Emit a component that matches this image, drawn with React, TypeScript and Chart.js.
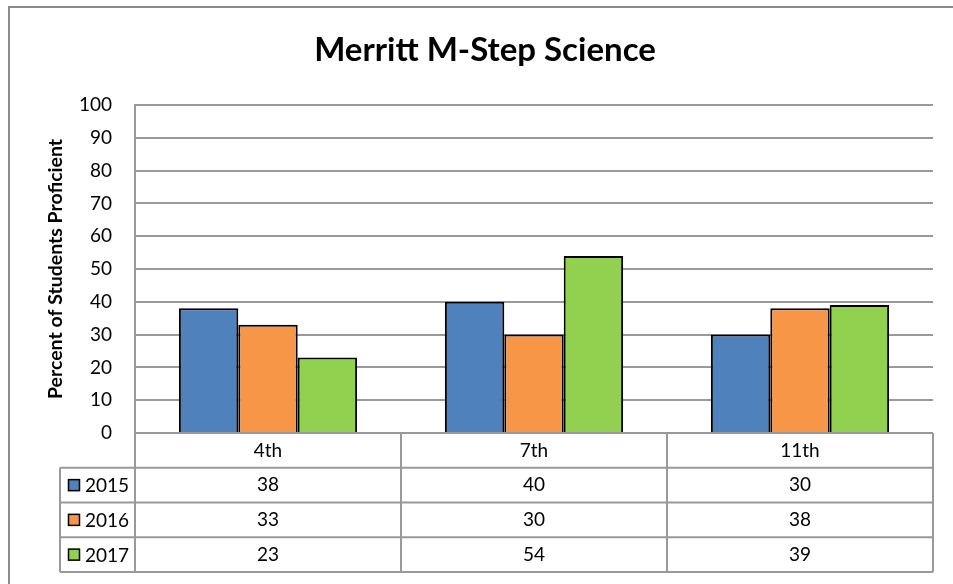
import React, { useEffect, useRef } from 'react';
import { Chart, registerables } from 'chart.js';

Chart.register(...registerables);

const chartTitle = 'Merritt M-Step Science';
const yAxisTitle = 'Percent of Students Proficient';
const categories = ['4th', '7th', '11th'];
const seriesNames = ['2015', '2016', '2017'];
const values2015 = [38, 40, 30];
const values2016 = [33, 30, 38];
const values2017 = [23, 54, 39];
const seriesColors = ['#4F81BD', '#F79646', '#92D050'];
const yMin = 0;
const yMax = 100;
const yStep = 10;

const FONT = 'Lato';
const LINE = '#999999';
const TABLE_ROW_H = 34.75;
const LEGEND_LEFT = 60;

const seriesValues = [values2015, values2016, values2017];

const frameAndTablePlugin = {
  id: 'frameAndTable',
  beforeDraw(chart: any) {
    const ctx = chart.ctx;
    ctx.save();
    ctx.fillStyle = '#ffffff';
    ctx.fillRect(0, 0, chart.width, chart.height);
    ctx.restore();
  },
  afterDraw(chart: any) {
    const ctx = chart.ctx;
    const xs = chart.scales.x;
    const area = chart.chartArea;
    const n = categories.length;
    const catW = (xs.right - xs.left) / n;
    const top = area.bottom;
    const rows = seriesNames.length + 1;
    const bottom = top + rows * TABLE_ROW_H;
    ctx.save();
    // outer frame
    ctx.strokeStyle = '#8a8a8a';
    ctx.lineWidth = 2;
    ctx.strokeRect(9, 7, chart.width + 20, chart.height + 20);

    ctx.strokeStyle = LINE;
    ctx.lineWidth = 2;
    ctx.beginPath();
    ctx.moveTo(xs.left, top);
    ctx.lineTo(xs.right, top);
    for (let r = 1; r <= rows; r++) {
      const y = top + r * TABLE_ROW_H;
      ctx.moveTo(LEGEND_LEFT, y);
      ctx.lineTo(xs.right, y);
    }
    for (let c = 0; c <= n; c++) {
      const x = xs.left + c * catW;
      ctx.moveTo(x, top);
      ctx.lineTo(x, bottom);
    }
    ctx.moveTo(LEGEND_LEFT, top + TABLE_ROW_H);
    ctx.lineTo(LEGEND_LEFT, bottom);
    ctx.stroke();

    ctx.fillStyle = '#000';
    ctx.font = `19px ${FONT}`;
    ctx.textBaseline = 'middle';
    ctx.textAlign = 'center';
    categories.forEach((cat, i) => {
      const cx = xs.getPixelForValue(i);
      ctx.fillText(cat, cx, top + TABLE_ROW_H / 2);
      seriesValues.forEach((vals, s) => {
        ctx.fillText(String(vals[i]), cx, top + (s + 1.5) * TABLE_ROW_H);
      });
    });
    ctx.textAlign = 'left';
    seriesNames.forEach((name, s) => {
      const cy = top + (s + 1.5) * TABLE_ROW_H;
      ctx.fillStyle = seriesColors[s];
      ctx.fillRect(68, cy - 6, 12, 12);
      ctx.strokeStyle = '#000';
      ctx.lineWidth = 1.5;
      ctx.strokeRect(68.5, cy - 5.5, 11, 11);
      ctx.fillStyle = '#000';
      ctx.fillText(name, 85, cy + 1);
    });
    ctx.restore();
  },
};

export default function App() {
  const ref = useRef<HTMLCanvasElement>(null);
  useEffect(() => {
    const chart = new Chart(ref.current as HTMLCanvasElement, {
      type: 'bar',
      data: {
        labels: categories,
        datasets: seriesNames.map((name, s) => ({
          label: name,
          data: seriesValues[s],
          backgroundColor: seriesColors[s],
          borderColor: '#000000',
          borderWidth: 2,
          categoryPercentage: 0.67,
          barPercentage: 1,
        })),
      },
      options: {
        responsive: false,
        animation: false,
        layout: { padding: { left: 37, right: 20, top: 0, bottom: 0 } },
        plugins: {
          legend: { display: false },
          tooltip: { enabled: false },
          title: {
            display: true,
            text: chartTitle,
            color: '#000',
            font: { family: FONT, size: 33, weight: 'bold' },
            padding: { top: 31, bottom: 34.4 },
          },
        },
        scales: {
          x: {
            ticks: { display: false },
            grid: { display: false },
            border: { display: false },
            afterFit: (scale: any) => {
              scale.height = 151;
            },
          },
          y: {
            min: yMin,
            max: yMax,
            ticks: {
              stepSize: yStep,
              color: '#000',
              padding: 23,
              font: { family: FONT, size: 19 },
            },
            grid: { color: LINE, lineWidth: 2, drawTicks: false },
            border: { display: true, color: LINE, width: 2 },
            title: {
              display: true,
              text: yAxisTitle,
              color: '#000',
              font: { family: FONT, size: 19.5, weight: 'bold' },
              padding: { top: 7.3, bottom: 0 },
            },
            afterFit: (scale: any) => {
              scale.width = 98;
            },
          },
        },
      },
      plugins: [frameAndTablePlugin],
    });
    return () => chart.destroy();
  }, []);
  return (
    <div style={{ position: 'fixed', left: 0, top: 0, width: 953, height: 584, background: '#fff' }}>
      <canvas ref={ref} width={953} height={584} style={{ width: 953, height: 584, display: 'block' }} />
    </div>
  );
}
